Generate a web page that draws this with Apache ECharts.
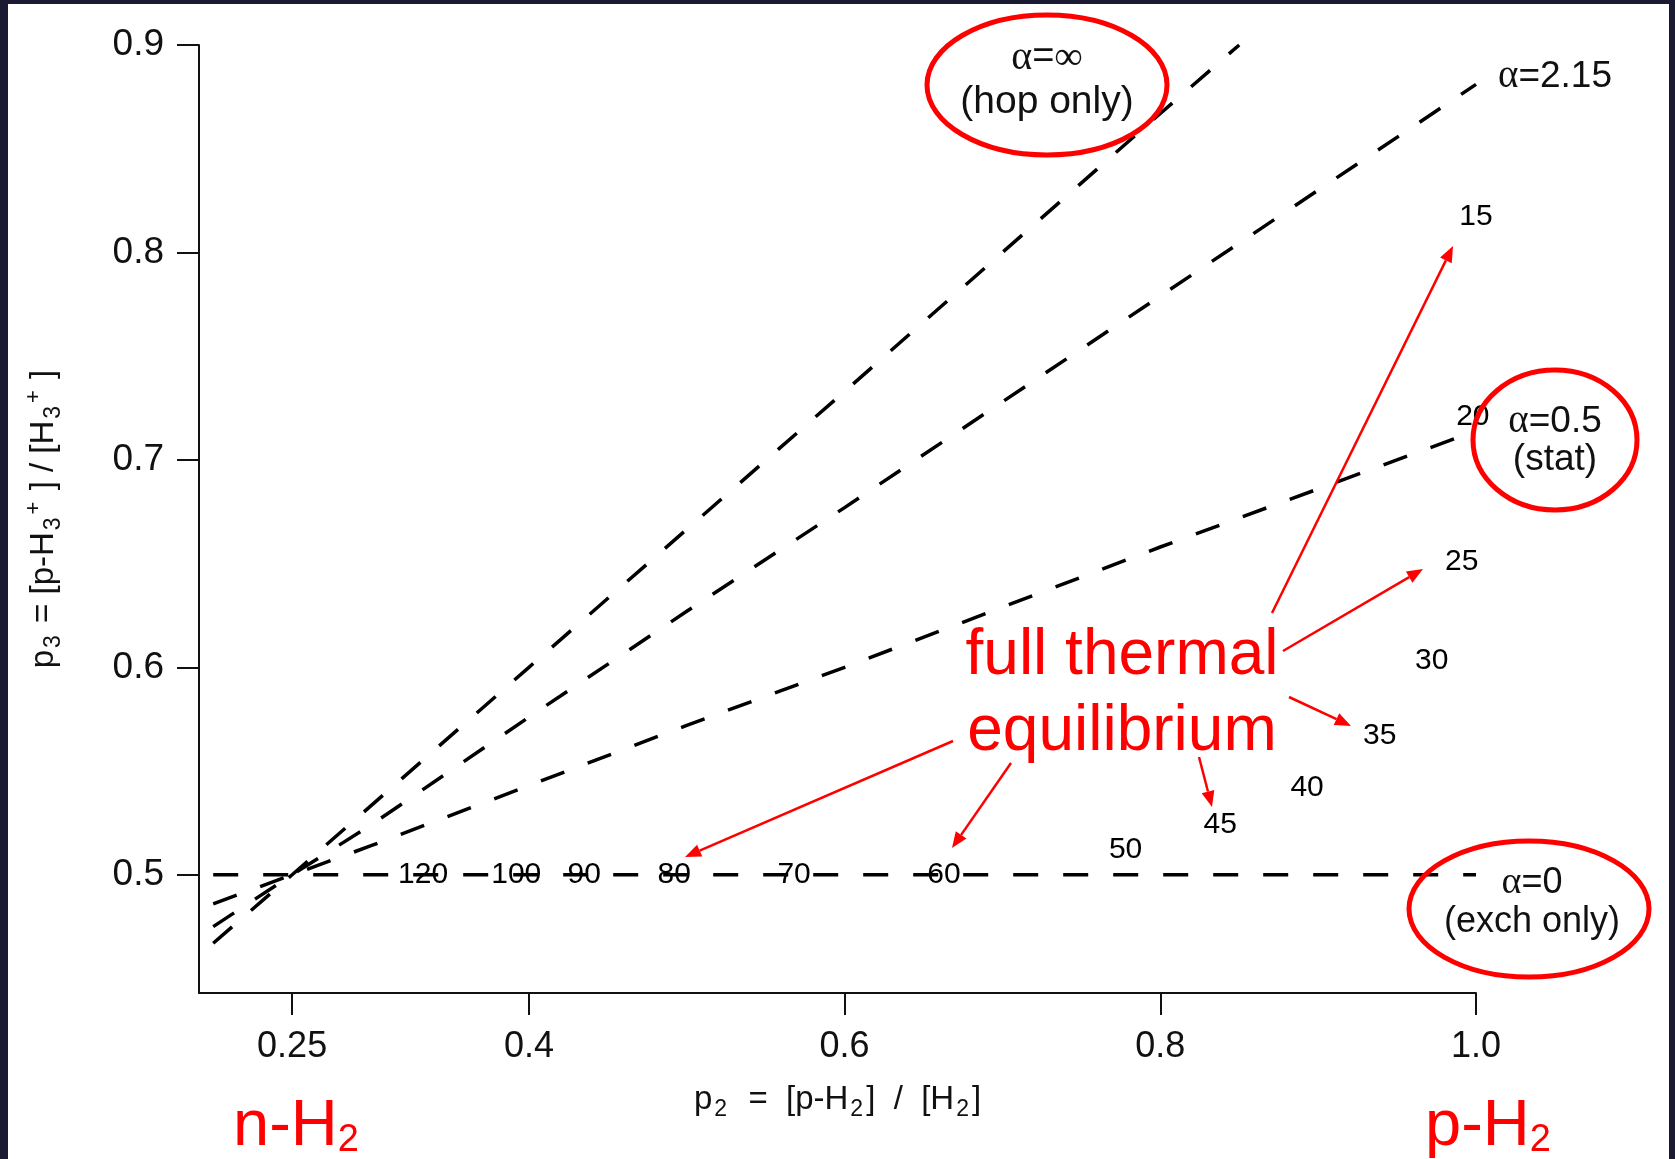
<!DOCTYPE html>
<html>
<head>
<meta charset="utf-8">
<title>p3 vs p2</title>
<script src="https://cdn.jsdelivr.net/npm/echarts@6/dist/echarts.min.js"></script>
<style>
html, body { margin: 0; padding: 0; background: #1b1a33; overflow: hidden; }
#paper { position: absolute; left: 8px; top: 4px; width: 1661px; height: 1155px; background: #fff; }
#main { position: absolute; left: 0; top: 0; width: 1675px; height: 1159px; }
</style>
</head>
<body>
<div id="paper"></div>
<div id="main"></div>
<script>
// model curves: p2 on x, p3 on y
var hopP2 = [0.2, 0.25, 0.4, 0.6, 0.8, 0.85];
var hopP3 = [0.467, 0.5, 0.6, 0.733, 0.867, 0.9];

var mixP2 = [0.2, 0.25, 0.3, 0.4, 0.5, 0.6, 0.7, 0.8, 0.9, 1.0];
var alpha215P3 = [0.475, 0.5, 0.524, 0.576, 0.627, 0.677, 0.728, 0.779, 0.830, 0.881];
var statP3 = [0.486, 0.5, 0.514, 0.543, 0.572, 0.600, 0.629, 0.658, 0.686, 0.714];

var exchP2 = [0.2, 1.0];
var exchP3 = [0.5, 0.5];

// thermal equilibrium temperatures (K) written at their (p2, p3)
var tempText = ['120', '100', '90', '80', '70', '60', '50', '45', '40', '35', '30', '25', '20', '15'];
var tempP2 = [0.333, 0.392, 0.435, 0.492, 0.568, 0.663, 0.778, 0.838, 0.893, 0.939, 0.972, 0.991, 0.998, 1.0];
var tempP3 = [0.5, 0.5, 0.5, 0.5, 0.5, 0.5, 0.512, 0.524, 0.542, 0.567, 0.603, 0.651, 0.721, 0.817];

// axis ticks
var xTicks = [0.25, 0.4, 0.6, 0.8, 1.0];
var xTickText = ['0.25', '0.4', '0.6', '0.8', '1.0'];
var yTicks = [0.5, 0.6, 0.7, 0.8, 0.9];
var yTickText = ['0.5', '0.6', '0.7', '0.8', '0.9'];

var FONT = '"Liberation Sans", Arial, Helvetica, sans-serif';
var SERIF = '"Liberation Serif", "DejaVu Serif", serif';

function pairs(xs, ys) {
    return xs.map(function (x, i) { return [x, ys[i]]; });
}

function tickLabel(ticks, texts) {
    return function (v) {
        for (var i = 0; i < ticks.length; i++) {
            if (Math.abs(ticks[i] - v) < 1e-6) return texts[i];
        }
        return '';
    };
}

var dashed = { color: '#000', width: 3.5, type: [25, 25] };

function curve(name, data) {
    return {
        name: name,
        type: 'line',
        data: data,
        showSymbol: false,
        symbol: 'none',
        lineStyle: dashed,
        silent: true,
        z: 3
    };
}

// annotation overlay (pixel positions)
var ellipses = [
    { cx: 1047, cy: 85, rx: 120, ry: 70 },
    { cx: 1555, cy: 440, rx: 82, ry: 70 },
    { cx: 1529, cy: 909, rx: 120, ry: 68 }
];
var alphaNotes = [
    { x: 1555, y: 77, text: '{a|α}=2.15', size: 37 },
    { x: 1047, y: 58, text: '{a|α}={a|∞}', size: 38 },
    { x: 1047, y: 102, text: '(hop only)', size: 39 },
    { x: 1555, y: 422, text: '{a|α}=0.5', size: 37 },
    { x: 1555, y: 460, text: '(stat)', size: 37 },
    { x: 1532, y: 883, text: '{a|α}=0', size: 36 },
    { x: 1532, y: 922, text: '(exch only)', size: 36 }
];
var arrows = [
    [1272, 613, 1453, 246],
    [1283, 651, 1423, 569],
    [1289, 697, 1351, 726],
    [1199, 757, 1212, 807],
    [1011, 763, 952, 848],
    [953, 741, 685, 857]
];

function buildGraphic() {
    var els = [];
    ellipses.forEach(function (e) {
        els.push({
            type: 'ellipse', silent: true, z: 10,
            shape: { cx: e.cx, cy: e.cy, rx: e.rx, ry: e.ry },
            style: { fill: 'none', stroke: '#ff0000', lineWidth: 5 }
        });
    });
    alphaNotes.forEach(function (n) {
        els.push({
            type: 'text', silent: true, z: 11, x: n.x, y: n.y,
            style: {
                text: n.text, fontSize: n.size, fontFamily: FONT, fill: '#111',
                align: 'center', verticalAlign: 'middle',
                rich: { a: { fontSize: n.size + 2, fontFamily: SERIF, fill: '#111' } }
            }
        });
    });
    arrows.forEach(function (a) {
        var dx = a[2] - a[0], dy = a[3] - a[1];
        var len = Math.sqrt(dx * dx + dy * dy);
        var ux = dx / len, uy = dy / len;
        var hl = 16, hw = 6.5;
        var bx = a[2] - ux * hl, by = a[3] - uy * hl;
        els.push({
            type: 'line', silent: true, z: 10,
            shape: { x1: a[0], y1: a[1], x2: bx, y2: by },
            style: { stroke: '#ff0000', lineWidth: 2.5 }
        });
        els.push({
            type: 'polygon', silent: true, z: 10,
            shape: { points: [[a[2], a[3]], [bx - uy * hw, by + ux * hw], [bx + uy * hw, by - ux * hw]] },
            style: { fill: '#ff0000' }
        });
    });
    [['full thermal', 1122, 656], ['equilibrium', 1122, 732]].forEach(function (t) {
        els.push({
            type: 'text', silent: true, z: 11, x: t[1], y: t[2],
            style: { text: t[0], fontSize: 64, fontFamily: FONT, fill: '#ff0000', align: 'center', verticalAlign: 'middle' }
        });
    });
    [['n-H', 296], ['p-H', 1488]].forEach(function (t) {
        els.push({
            type: 'text', silent: true, z: 11, x: t[1], y: 1127,
            style: {
                text: '{m|' + t[0] + '}{s|2}', align: 'center', verticalAlign: 'middle', fill: '#ff0000',
                rich: {
                    m: { fontSize: 65, lineHeight: 65, fontFamily: FONT, fill: '#ff0000' },
                    s: { fontSize: 38, lineHeight: 22, verticalAlign: 'bottom', fontFamily: FONT, fill: '#ff0000' }
                }
            }
        });
    });
    return els;
}

var titleRich = {
    t: { fontSize: 33, lineHeight: 42, fontFamily: FONT, color: '#111' },
    s: { fontSize: 23, lineHeight: 19, verticalAlign: 'bottom', fontFamily: FONT, color: '#111', padding: [0, 3, 0, 2] },
    u: { fontSize: 22, lineHeight: 16, verticalAlign: 'top', fontFamily: FONT, color: '#111', padding: [0, 2, 0, 0] }
};

var chart = echarts.init(document.getElementById('main'));

var option = {
    animation: false,
    backgroundColor: 'transparent',
    grid: { left: 199, top: 45, right: 199, bottom: 166 },
    xAxis: {
        type: 'value',
        min: 0.191,
        max: 1.0,
        name: '{t|p}{s|2}{t|  =  [p-H}{s|2}{t|]  /  [H}{s|2}{t|]}',
        nameLocation: 'middle',
        nameGap: 86,
        nameTextStyle: { rich: titleRich },
        axisLine: { show: true, onZero: false, lineStyle: { color: '#111', width: 2 } },
        axisTick: { show: true, length: 22, lineStyle: { color: '#111', width: 2 }, customValues: xTicks },
        axisLabel: {
            customValues: xTicks, margin: 36, color: '#111', fontSize: 36, fontFamily: FONT,
            formatter: tickLabel(xTicks, xTickText)
        },
        splitLine: { show: false }
    },
    yAxis: {
        type: 'value',
        min: 0.443,
        max: 0.9,
        name: '{t|p}{s|3}{t| = [p-H}{s|3}{u|+}{t| ] / [H}{s|3}{u|+}{t| ]}',
        nameLocation: 'middle',
        nameGap: 134,
        nameTextStyle: { rich: titleRich },
        axisLine: { show: true, onZero: false, lineStyle: { color: '#111', width: 2 } },
        axisTick: { show: true, length: 22, lineStyle: { color: '#111', width: 2 }, customValues: yTicks },
        axisLabel: {
            customValues: yTicks, margin: 35, color: '#111', fontSize: 37, fontFamily: FONT,
            formatter: tickLabel(yTicks, yTickText)
        },
        splitLine: { show: false }
    },
    series: [
        curve('alpha=inf', pairs(hopP2, hopP3)),
        curve('alpha=2.15', pairs(mixP2, alpha215P3)),
        curve('alpha=0.5', pairs(mixP2, statP3)),
        curve('alpha=0', pairs(exchP2, exchP3)),
        {
            name: 'temperatures',
            type: 'scatter',
            data: tempP2.map(function (x, i) { return [x, tempP3[i], tempText[i]]; }),
            symbolSize: 1,
            itemStyle: { color: 'rgba(0,0,0,0)' },
            silent: true,
            z: 4,
            label: {
                show: true,
                position: 'inside',
                fontSize: 30,
                fontFamily: FONT,
                color: '#000',
                opacity: 1,
                textBorderWidth: 0,
                textBorderColor: 'transparent',
                formatter: function (p) { return p.data[2]; }
            }
        }
    ],
    graphic: { elements: buildGraphic() }
};

chart.setOption(option);
</script>
</body>
</html>
